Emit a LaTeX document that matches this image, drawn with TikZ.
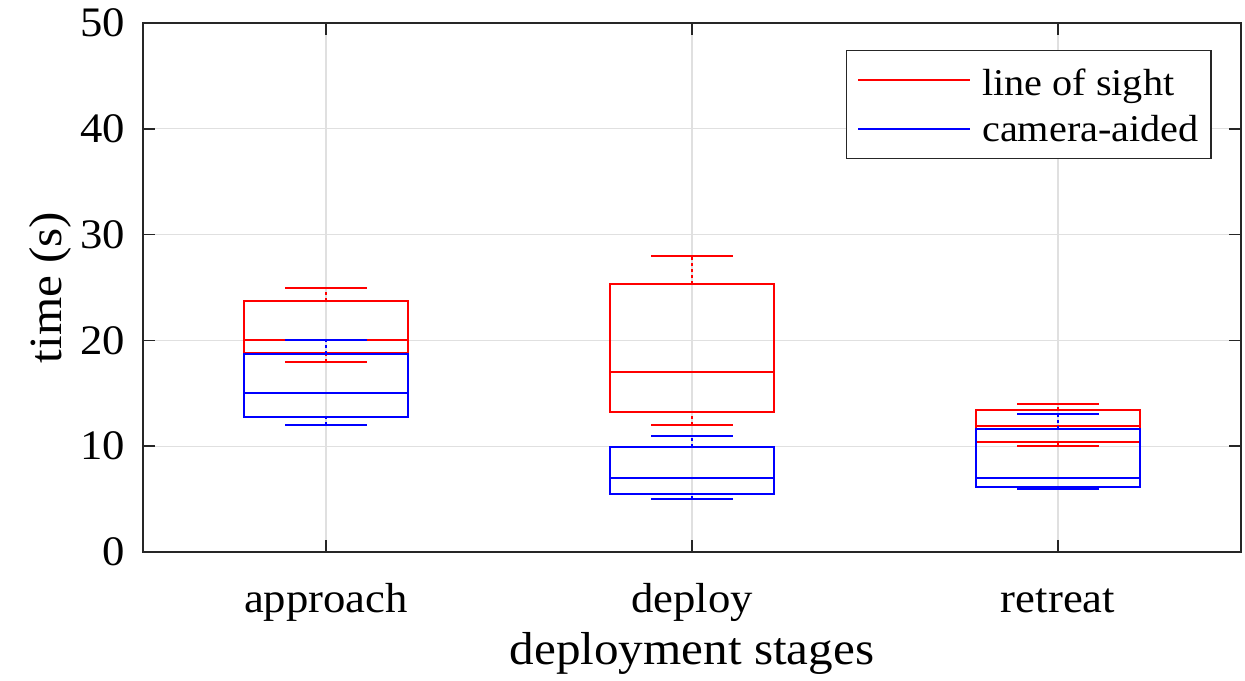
\documentclass[tikz,border=0pt]{standalone}
\usepackage{xcolor}
\usepackage{fontspec}
\setmainfont{Liberation Serif}[FakeStretch=1.064]
\usepackage{tikz}

\definecolor{axgray}{rgb}{0.15,0.15,0.15}
\definecolor{gridgray}{rgb}{0.88,0.88,0.88}

\begin{document}
\begin{tikzpicture}[x=366pt,y=10.58pt,font=\fontsize{42}{48}\selectfont,
  gridline/.style={gridgray,line width=1.3pt},
  axisline/.style={axgray,line width=2.6pt},
  losline/.style={red,line width=2pt},
  camline/.style={blue,line width=2pt}]
\useasboundingbox (0.1093,-12.098) rectangle (3.5109,52.174);
% grid
\foreach \y in {10,20,30,40} \draw[gridline] (0.5,\y) -- (3.5,\y);
\foreach \x in {1,2,3} \draw[gridline] (\x,0) -- (\x,50);
% line of sight
\foreach \c/\lo/\qa/\md/\qb/\hi in {1/18/18.8/20/23.75/25,2/12/13.23/17/25.3/28,3/10/10.43/11.9/13.42/14} {
  \draw[losline] (\c-0.225,\qa) rectangle (\c+0.225,\qb);
  \draw[losline] (\c-0.225,\md) -- (\c+0.225,\md);
  \draw[losline,dashed] (\c,\qb) -- (\c,\hi);
  \draw[losline,dashed] (\c,\lo) -- (\c,\qa);
  \foreach \y in {\lo,\hi} \draw[losline] (\c-0.112,\y) -- (\c+0.112,\y);
}
% camera-aided
\foreach \c/\lo/\qa/\md/\qb/\hi in {1/12/12.76/15/18.7/20,2/5/5.45/7/9.95/11,3/6/6.17/7/11.6/13} {
  \draw[camline] (\c-0.225,\qa) rectangle (\c+0.225,\qb);
  \draw[camline] (\c-0.225,\md) -- (\c+0.225,\md);
  \draw[camline,dashed] (\c,\qb) -- (\c,\hi);
  \draw[camline,dashed] (\c,\lo) -- (\c,\qa);
  \foreach \y in {\lo,\hi} \draw[camline] (\c-0.112,\y) -- (\c+0.112,\y);
}
% axes
\draw[axisline] (0.5,0) rectangle (3.5,50);
\foreach \y in {0,10,20,30,40,50} {
  \foreach \x in {0.5,3.4672} \draw[axgray,line width=1.5pt] (\x,\y) -- (\x+0.0328,\y);
  \node [anchor=east,inner sep=0pt] (ytick\y) at (0.4508,\y) {\y};
}
\foreach \x/\label in {1/approach,2/deploy,3/retreat} {
  \foreach \y in {0,48.87} \draw[axgray,line width=1.5pt] (\x,\y) -- (\x,\y+1.13);
  \node [anchor=base,inner sep=0pt] (xtick\x) at (\x,-5.67) {\label};
}
\node [anchor=base,inner sep=0pt,font=\fontsize{46.2}{52}\selectfont] (xlab) at (2,-10.59) {deployment stages};
\node [anchor=base,inner sep=0pt,rotate=90,font=\fontsize{46.2}{52}\selectfont] (ylab) at (0.276,25) {time (s)};
% legend
\draw[axgray,line width=1.5pt,fill=white] (2.4227,37.21) rectangle (3.418,47.38);
\node [anchor=base west,inner sep=0pt,font=\fontsize{37.8}{44}\selectfont] (los) at (2.7923,43.19) {line of sight};
\node [anchor=base west,inner sep=0pt,font=\fontsize{37.8}{44}\selectfont] (cam) at (2.7923,38.78) {camera-aided};
\draw[losline] (2.4536,44.61) -- (2.7596,44.61);
\draw[camline] (2.4536,39.98) -- (2.7596,39.98);
\end{tikzpicture}
\end{document}
